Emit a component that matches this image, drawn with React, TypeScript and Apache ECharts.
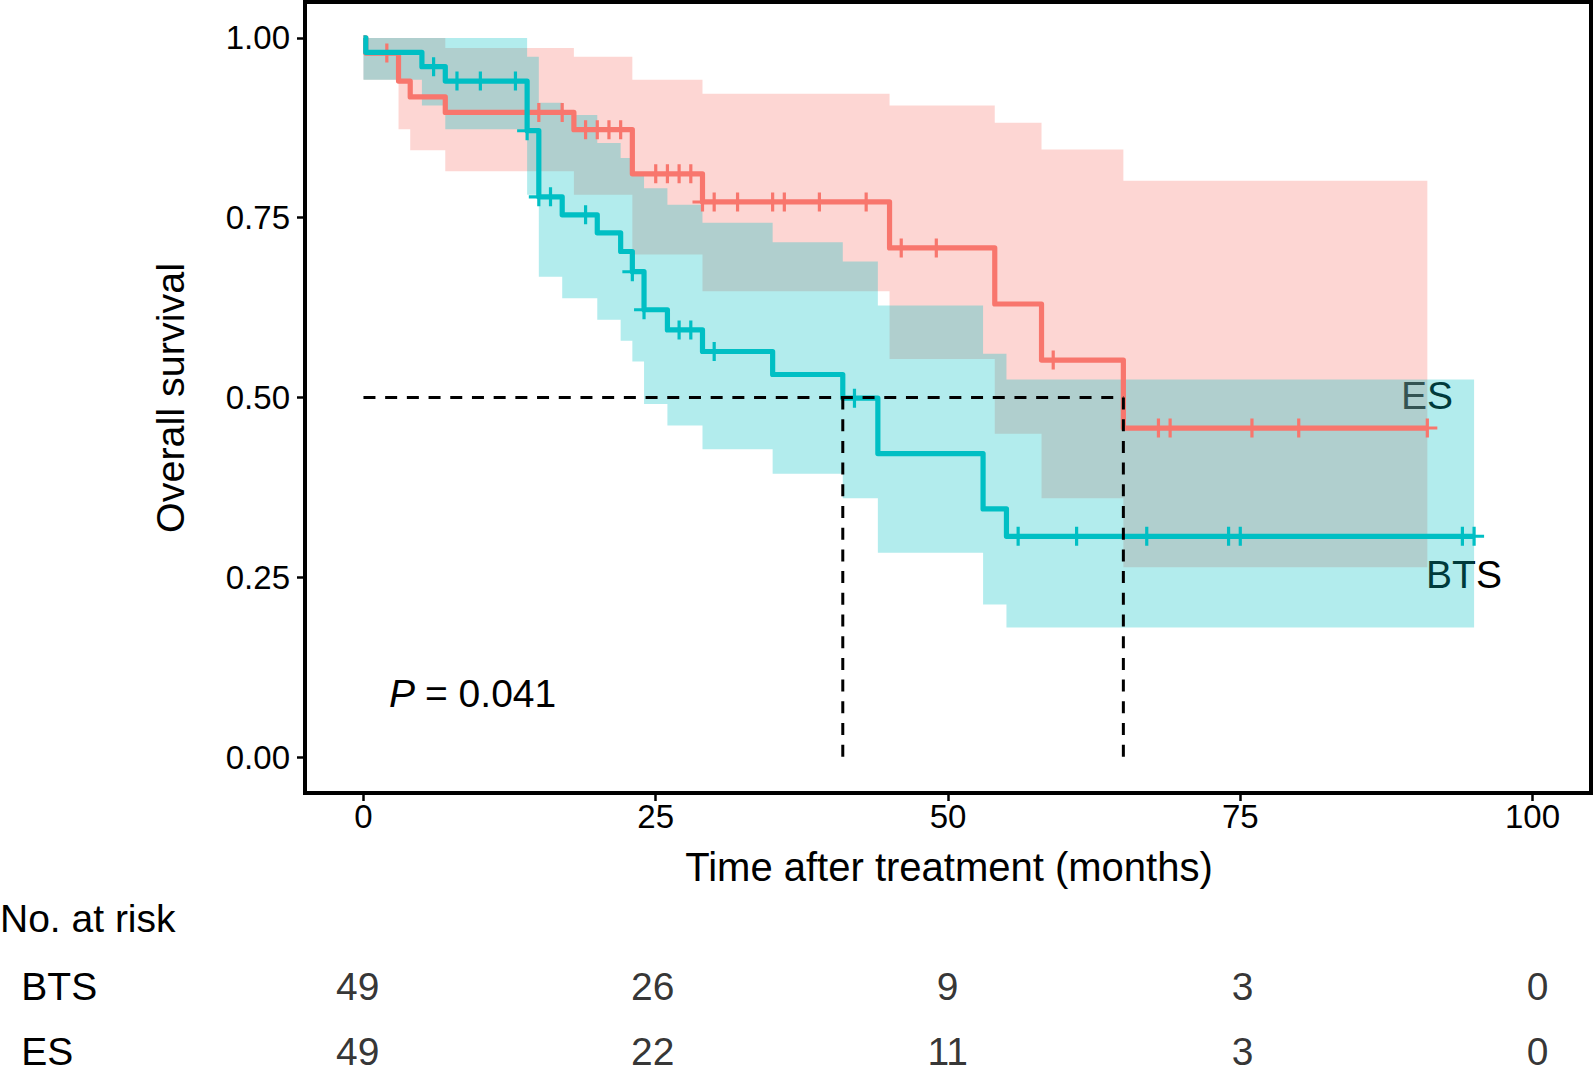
import React, { useEffect, useRef } from "react";
import * as echarts from "echarts";

// ---- Data ----
// Kaplan-Meier step curves: value holds from times[i] until times[i+1]
const btsTimes = [0, 0.2, 5, 7, 14, 15, 17, 20, 22, 23, 24, 26, 29, 35, 41, 44, 53, 55, 95];
const btsSurv = [1.0, 0.98, 0.96, 0.94, 0.871, 0.779, 0.754, 0.729, 0.703, 0.675, 0.622, 0.594, 0.564, 0.532, 0.499, 0.422, 0.345, 0.307, 0.307];
const btsCensor = [6, 8, 10, 13, 14, 15, 16, 19, 23, 24, 27, 28, 30, 42, 56, 61, 67, 74, 75, 94, 95];
const btsBandTimes = [0, 5, 7, 14, 15, 17, 20, 22, 23, 24, 26, 29, 35, 41, 44, 53, 55, 95];
const btsUpper = [1.0, 1.0, 1.0, 0.974, 0.91, 0.893, 0.854, 0.833, 0.812, 0.791, 0.768, 0.743, 0.716, 0.689, 0.628, 0.561, 0.525, 0.525];
const btsLower = [0.942, 0.906, 0.873, 0.782, 0.668, 0.638, 0.608, 0.579, 0.55, 0.491, 0.461, 0.428, 0.394, 0.36, 0.284, 0.212, 0.18, 0.18];

const esTimes = [0, 0.2, 3, 4, 7, 18, 23, 29, 45, 54, 58, 65, 91];
const esSurv = [1.0, 0.979, 0.94, 0.918, 0.8965, 0.8725, 0.811, 0.772, 0.708, 0.63, 0.552, 0.4575, 0.4575];
const esCensor = [2, 15, 17, 19, 20, 21, 22, 25, 26, 27, 28, 29, 30, 32, 35, 36, 39, 43, 46, 49, 59, 68, 69, 76, 80, 91];
const esBandTimes = [0, 3, 4, 7, 18, 23, 29, 45, 54, 58, 65, 91];
const esUpper = [1.0, 1.0, 1.0, 0.986, 0.974, 0.942, 0.9225, 0.906, 0.882, 0.845, 0.8015, 0.8015];
const esLower = [0.942, 0.873, 0.844, 0.8145, 0.782, 0.699, 0.6476, 0.5535, 0.4497, 0.36, 0.264, 0.264];

const medianLevel = 0.5;
const medianBTS = 41;
const medianES = 65;

const riskTimes = [0, 25, 50, 75, 100];
const riskBTS = [49, 26, 9, 3, 0];
const riskES = [49, 22, 11, 3, 0];
const riskRows = ["ES", "BTS"]; // row index 0 = ES (lower), 1 = BTS (upper)

const xTicks = [0, 25, 50, 75, 100];
const yTicks = [0, 0.25, 0.5, 0.75, 1.0];

const pValueText = "= 0.041";

// ---- Styles ----
const FONT = "'Liberation Sans', Arial, Helvetica, sans-serif";
const RED = "#F8766D";
const TEAL = "#00BFC4";
const CENSOR_PATH = "path://M8.4,0H11.6V20H8.4Z M0,8.4H20V11.6H0Z";

// risk table layout (px per month in the table strip)
const RISK_LEFT = 298.8;
const RISK_WIDTH = 1294;
const RISK_K = 11.797;

function survAt(times: number[], surv: number[], t: number) {
  let v = surv[0];
  for (let i = 0; i < times.length; i++) {
    if (times[i] <= t) v = surv[i];
  }
  return v;
}

function bandSeries(times: number[], upper: number[], lower: number[], fill: string) {
  return {
    type: "custom",
    xAxisIndex: 0,
    yAxisIndex: 0,
    silent: true,
    data: [[times[0], lower[0]]],
    encode: { x: 0, y: 1 },
    renderItem: (_params: any, api: any) => {
      const pts: number[][] = [];
      for (let i = 0; i < times.length - 1; i++) {
        pts.push(api.coord([times[i], upper[i]]));
        pts.push(api.coord([times[i + 1], upper[i]]));
      }
      for (let i = times.length - 2; i >= 0; i--) {
        pts.push(api.coord([times[i + 1], lower[i]]));
        pts.push(api.coord([times[i], lower[i]]));
      }
      return { type: "polygon", shape: { points: pts }, style: { fill, stroke: "none" } };
    },
  };
}

function kmLine(times: number[], surv: number[], color: string) {
  return {
    type: "line",
    xAxisIndex: 0,
    yAxisIndex: 0,
    step: "end",
    symbol: "none",
    silent: true,
    data: times.map((t, i) => [t, surv[i]]),
    lineStyle: { color, width: 5.2, join: "round" },
  };
}

function censorSeries(times: number[], kmT: number[], kmS: number[], color: string) {
  return {
    type: "scatter",
    xAxisIndex: 0,
    yAxisIndex: 0,
    silent: true,
    symbol: CENSOR_PATH,
    symbolSize: [20, 19],
    itemStyle: { color, opacity: 1 },
    data: times.map((t) => [t, survAt(kmT, kmS, t)]),
  };
}

function dashed(data: number[][]) {
  return {
    type: "line",
    xAxisIndex: 0,
    yAxisIndex: 0,
    symbol: "none",
    silent: true,
    data,
    lineStyle: { color: "#000", width: 3, type: [12, 9.7] },
  };
}

function textEl(text: string, x: number, y: number, size: number, align: string, extra: any = {}) {
  return {
    type: "text",
    x,
    y,
    silent: true,
    ...extra,
    style: {
      text,
      fontSize: size,
      fontFamily: FONT,
      fontStyle: extra.fontStyle || "normal",
      fill: "#000",
      align,
      textAlign: align,
      verticalAlign: "middle",
      textVerticalAlign: "middle",
    },
  };
}

export default function App() {
  const ref = useRef<HTMLDivElement>(null);

  useEffect(() => {
    if (!ref.current) return;
    const chart = echarts.init(ref.current, null, { renderer: "svg" });

    const riskData = [
      ...riskTimes.map((t, i) => [t, 1, riskBTS[i]]),
      ...riskTimes.map((t, i) => [t, 0, riskES[i]]),
    ];

    const option: any = {
      animation: false,
      backgroundColor: "#fff",
      grid: [
        {
          left: 305,
          top: 2,
          width: 1286,
          height: 791,
          show: true,
          borderColor: "#000",
          borderWidth: 4,
          backgroundColor: "transparent",
        },
        { left: RISK_LEFT, top: 950, width: RISK_WIDTH, height: 121 },
      ],
      xAxis: [
        {
          type: "value",
          gridIndex: 0,
          min: -5,
          max: 105,
          splitLine: { show: false },
          axisLine: { show: false, onZero: false },
          axisTick: {
            show: true,
            length: 8,
            customValues: xTicks,
            lineStyle: { color: "#000", width: 2.5 },
          },
          axisLabel: {
            customValues: xTicks,
            fontSize: 33,
            fontFamily: FONT,
            color: "#000",
            margin: 7,
          },
        },
        {
          type: "value",
          gridIndex: 1,
          min: -5,
          max: -5 + RISK_WIDTH / RISK_K,
          show: false,
        },
      ],
      yAxis: [
        {
          type: "value",
          gridIndex: 0,
          min: -0.05,
          max: 1.05,
          splitLine: { show: false },
          axisLine: { show: false, onZero: false },
          axisTick: {
            show: true,
            length: 8,
            customValues: yTicks,
            lineStyle: { color: "#000", width: 2.5 },
          },
          axisLabel: {
            customValues: yTicks,
            formatter: (v: number) => v.toFixed(2),
            fontSize: 33,
            fontFamily: FONT,
            color: "#000",
            margin: 15,
          },
        },
        {
          type: "value",
          gridIndex: 1,
          min: -0.2117,
          max: 1.5547,
          splitLine: { show: false },
          axisLine: { show: false, onZero: false },
          axisTick: { show: false },
          axisLabel: {
            customValues: [0, 1],
            formatter: (v: number) => riskRows[Math.round(v)],
            align: "left",
            margin: 277.5,
            fontSize: 39,
            fontFamily: FONT,
            color: "#000",
          },
        },
      ],
      series: [
        bandSeries(esBandTimes, esUpper, esLower, "rgba(248,118,109,0.3)"),
        kmLine(esTimes, esSurv, RED),
        bandSeries(btsBandTimes, btsUpper, btsLower, "rgba(0,191,196,0.3)"),
        kmLine(btsTimes, btsSurv, TEAL),
        censorSeries(esCensor, esTimes, esSurv, RED),
        censorSeries(btsCensor, btsTimes, btsSurv, TEAL),
        dashed([[0, medianLevel], [medianES, medianLevel]]),
        dashed([[medianBTS, medianLevel], [medianBTS, 0]]),
        dashed([[medianES, medianLevel], [medianES, 0]]),
        {
          type: "scatter",
          xAxisIndex: 1,
          yAxisIndex: 1,
          silent: true,
          symbolSize: 1,
          itemStyle: { color: "rgba(0,0,0,0)" },
          data: riskData,
          label: {
            show: true,
            position: "inside",
            formatter: (p: any) => String(p.value[2]),
            fontSize: 39,
            fontFamily: FONT,
            color: "#000",
          },
        },
      ],
      graphic: [
        textEl("Overall survival", 170, 398, 39.5, "center", { rotation: Math.PI / 2 }),
        textEl("Time after treatment (months)", 949, 867, 40, "center"),
        textEl("No. at risk", 0, 918, 39, "left"),
        textEl("P", 389, 693, 39, "left", { fontStyle: "italic" }),
        textEl(pValueText, 425, 693, 39, "left"),
        textEl("ES", 1427, 395, 39, "center"),
        textEl("BTS", 1464, 574, 39, "center"),
      ],
    };

    chart.setOption(option);
    return () => chart.dispose();
  }, []);

  return (
    <div
      ref={ref}
      style={{ position: "absolute", left: 0, top: 0, width: 1594, height: 1071, background: "#fff" }}
    />
  );
}
